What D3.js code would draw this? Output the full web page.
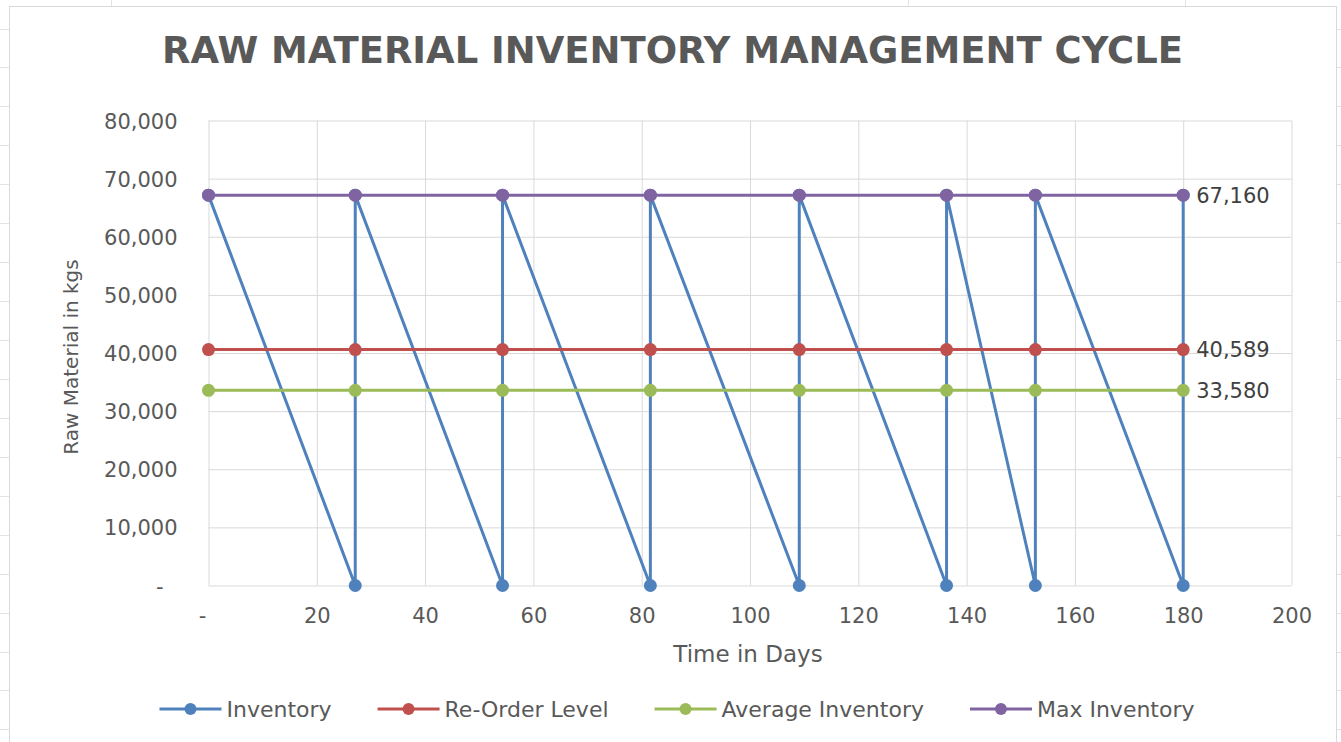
<!DOCTYPE html>
<html>
<head>
<meta charset="utf-8">
<script src="https://cdn.jsdelivr.net/npm/d3@7"></script>
<style>
  html, body { margin: 0; padding: 0; background: #ffffff; }
  svg { display: block; }
  text { font-family: "DejaVu Sans", Verdana, sans-serif; }
</style>
</head>
<body>
<svg id="chart" width="1341" height="742"></svg>
<script>
// ---- data ----
const chartTitle = "RAW MATERIAL INVENTORY MANAGEMENT CYCLE";
const xTitle = "Time in Days";
const yTitle = "Raw Material in kgs";

const xTicks = [0, 20, 40, 60, 80, 100, 120, 140, 160, 180, 200];
const yTicks = [0, 10000, 20000, 30000, 40000, 50000, 60000, 70000, 80000];

// Inventory saw-tooth: drawn down to zero, then refilled instantly
const inventoryDays  = [0, 27.1, 27.1, 54.3, 54.3, 81.6, 81.6, 109.1, 109.1, 136.3, 136.3, 152.7, 152.7, 180, 180];
const inventoryLevel = [67160, 0, 67160, 0, 67160, 0, 67160, 0, 67160, 0, 67160, 0, 67160, 0, 67160];

// Reference levels, marked at each replenishment day
const levelDays        = [0, 27.1, 54.3, 81.6, 109.1, 136.3, 152.7, 180];
const reorderLevel     = [40589, 40589, 40589, 40589, 40589, 40589, 40589, 40589];
const averageInventory = [33580, 33580, 33580, 33580, 33580, 33580, 33580, 33580];
const maxInventory     = [67160, 67160, 67160, 67160, 67160, 67160, 67160, 67160];

const seriesNames  = ["Inventory", "Re-Order Level", "Average Inventory", "Max Inventory"];
const seriesColors = ["#4F81BD", "#C0504D", "#9BBB59", "#8064A2"];

// ---- build series ----
const series = [
  { name: seriesNames[0], color: seriesColors[0], label: false,
    points: inventoryDays.map((d, i) => ({ x: d, y: inventoryLevel[i] })) },
  { name: seriesNames[1], color: seriesColors[1], label: true,
    points: levelDays.map((d, i) => ({ x: d, y: reorderLevel[i] })) },
  { name: seriesNames[2], color: seriesColors[2], label: true,
    points: levelDays.map((d, i) => ({ x: d, y: averageInventory[i] })) },
  { name: seriesNames[3], color: seriesColors[3], label: true,
    points: levelDays.map((d, i) => ({ x: d, y: maxInventory[i] })) }
];

const svg = d3.select("#chart");
const W = 1341, H = 742;
const gridColor = "#D9D9D9";
const textColor = "#595959";

// spreadsheet cell lines peeking around the chart object
const sheet = svg.append("g").attr("stroke", "#E3E3E3").attr("stroke-width", 1);
const rowYs = d3.range(0, 19).map(k => 28.5 + k * 38.94);
rowYs.forEach(ry => {
  const yy = Math.round(ry) + 0.5;
  sheet.append("line").attr("x1", 0).attr("x2", 9).attr("y1", yy).attr("y2", yy);
  sheet.append("line").attr("x1", 1337).attr("x2", W).attr("y1", yy).attr("y2", yy);
});
[111.5, 908.5, 1185.5].forEach(cx => {
  sheet.append("line").attr("x1", cx).attr("x2", cx).attr("y1", 0).attr("y2", 7);
});

// chart frame
svg.append("rect")
  .attr("x", 9.5).attr("y", 6.5)
  .attr("width", 1327).attr("height", H + 10)
  .attr("fill", "#ffffff")
  .attr("stroke", gridColor).attr("stroke-width", 1);

// ---- scales ----
const x = d3.scaleLinear().domain([0, 200]).range([208.5, 1291.5]);
const y = d3.scaleLinear().domain([0, 80000]).range([585.5, 120.5]);

const fmt = d => d === 0 ? "-" : d3.format(",")(d);

// y axis with horizontal gridlines
const yAxis = svg.append("g")
  .attr("transform", `translate(${x(0)},0)`)
  .call(d3.axisLeft(y).tickValues(yTicks).tickFormat(fmt)
    .tickSize(-(x(200) - x(0))).tickPadding(31));
yAxis.select(".domain").remove();
yAxis.selectAll(".tick line").attr("stroke", gridColor);
yAxis.selectAll(".tick text")
  .attr("fill", textColor).attr("font-size", 21)
  .attr("font-family", "DejaVu Sans, Verdana, sans-serif")
  .attr("dy", "0.36em")
  .filter(d => d === 0).attr("dx", -14);

// x axis with vertical gridlines
const xAxis = svg.append("g")
  .attr("transform", `translate(0,${y(0)})`)
  .call(d3.axisBottom(x).tickValues(xTicks).tickFormat(fmt)
    .tickSize(-(y(0) - y(80000))).tickPadding(23));
xAxis.select(".domain").remove();
xAxis.selectAll(".tick line").attr("stroke", gridColor);
xAxis.selectAll(".tick text")
  .attr("fill", textColor).attr("font-size", 21)
  .attr("font-family", "DejaVu Sans, Verdana, sans-serif")
  .filter(d => d === 0).attr("dx", -6.5);

// ---- series ----
const line = d3.line().x(d => x(d.x)).y(d => y(d.y));
series.forEach(s => {
  const g = svg.append("g");
  g.append("path")
    .datum(s.points)
    .attr("d", line)
    .attr("fill", "none")
    .attr("stroke", s.color)
    .attr("stroke-width", 3)
    .attr("stroke-linejoin", "round");
  g.selectAll("circle")
    .data(s.points)
    .join("circle")
    .attr("cx", d => x(d.x))
    .attr("cy", d => y(d.y))
    .attr("r", 6.5)
    .attr("fill", s.color);
  if (s.label) {
    const last = s.points[s.points.length - 1];
    g.append("text")
      .attr("x", x(last.x) + 13)
      .attr("y", y(last.y))
      .attr("dy", "0.36em")
      .attr("fill", "#404040")
      .attr("font-size", 21)
      .text(d3.format(",")(last.y));
  }
});

// ---- titles ----
svg.append("text")
  .attr("x", 672.5).attr("y", 63)
  .attr("text-anchor", "middle")
  .attr("font-family", "Open Sans, sans-serif")
  .attr("font-weight", 700)
  .attr("font-size", 38)
  .attr("fill", textColor)
  .attr("textLength", 1021)
  .attr("lengthAdjust", "spacingAndGlyphs")
  .text(chartTitle);

svg.append("text")
  .attr("x", 748).attr("y", 662)
  .attr("text-anchor", "middle")
  .attr("font-size", 23)
  .attr("fill", textColor)
  .text(xTitle);

svg.append("text")
  .attr("transform", "translate(78,357) rotate(-90)")
  .attr("text-anchor", "middle")
  .attr("font-size", 20)
  .attr("fill", textColor)
  .text(yTitle);

// ---- legend ----
const legend = svg.append("g");
const lineLen = 62, textGap = 5, itemGap = 46, legendY = 709;
let cursor = 0;
series.forEach(s => {
  const item = legend.append("g").attr("transform", `translate(${cursor},0)`);
  item.append("line")
    .attr("x1", 0).attr("x2", lineLen)
    .attr("y1", legendY).attr("y2", legendY)
    .attr("stroke", s.color).attr("stroke-width", 3);
  item.append("circle")
    .attr("cx", lineLen / 2).attr("cy", legendY).attr("r", 6)
    .attr("fill", s.color);
  const t = item.append("text")
    .attr("x", lineLen + textGap).attr("y", legendY)
    .attr("dy", "0.36em")
    .attr("font-size", 22)
    .attr("fill", textColor)
    .text(s.name);
  cursor += lineLen + textGap + t.node().getComputedTextLength() + itemGap;
});
const legendWidth = cursor - itemGap;
legend.attr("transform", `translate(${677 - legendWidth / 2},0)`);
</script>
</body>
</html>
